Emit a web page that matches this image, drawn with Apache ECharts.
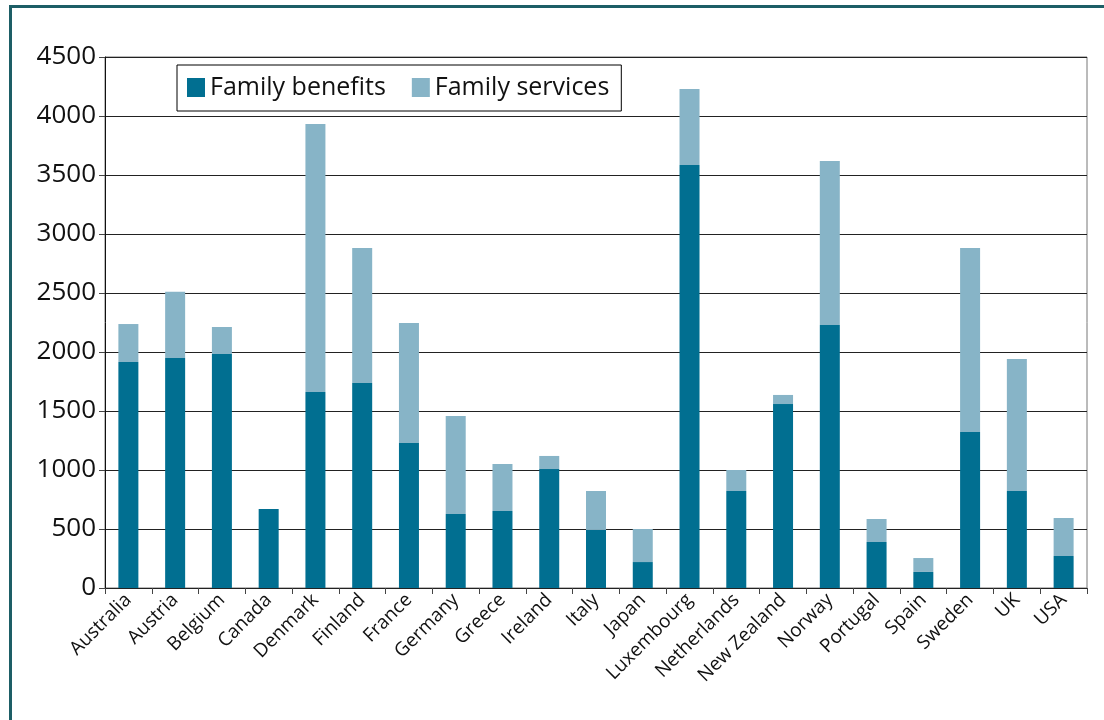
<!DOCTYPE html>
<html>
<head>
<meta charset="utf-8">
<script src="https://cdn.jsdelivr.net/npm/echarts@6/dist/echarts.min.js"></script>
<style>
html, body { margin: 0; padding: 0; background: #fff; }
.frame {
    position: absolute; left: 9px; top: 5px; width: 1200px; height: 800px;
    border-left: 3px solid #1d5e66; border-top: 3px solid #1d5e66;
}
#chart { position: absolute; left: 0; top: 0; width: 1104px; height: 720px; }
</style>
</head>
<body>
<div class="frame"></div>
<div id="chart"></div>
<script>
const countries = ['Australia', 'Austria', 'Belgium', 'Canada', 'Denmark', 'Finland', 'France',
    'Germany', 'Greece', 'Ireland', 'Italy', 'Japan', 'Luxembourg', 'Netherlands', 'New Zealand',
    'Norway', 'Portugal', 'Spain', 'Sweden', 'UK', 'USA'];
const familyBenefits = [1915, 1949, 1983, 669, 1661, 1737, 1229, 627, 653, 1008, 492, 220, 3585,
    822, 1559, 2229, 390, 136, 1322, 822, 271];
const familyServices = [322, 562, 229, 0, 2271, 1144, 1017, 831, 398, 111, 330, 280, 644,
    178, 77, 1390, 195, 118, 1559, 1119, 322];

const fontName = '"Open Sans", "DejaVu Sans", sans-serif';

let myChart = echarts.init(document.getElementById('chart'));
let option = {
    backgroundColor: 'transparent',
    animation: false,
    textStyle: { fontFamily: fontName },
    legend: {
        left: 177,
        top: 65,
        orient: 'horizontal',
        padding: [10, 12, 11, 10],
        borderColor: '#000',
        borderWidth: 1,
        itemWidth: 18,
        itemHeight: 19,
        itemGap: 26,
        icon: 'rect',
        textStyle: { fontSize: 25, color: '#111', fontFamily: fontName },
        data: ['Family benefits', 'Family services']
    },
    grid: {
        left: 105,
        right: 17,
        top: 57,
        bottom: 132,
        show: true,
        borderColor: '#777',
        borderWidth: 1,
        containLabel: false
    },
    xAxis: {
        type: 'category',
        data: countries,
        axisLine: { lineStyle: { color: '#222', width: 1 } },
        axisTick: { show: true, length: 6, lineStyle: { color: '#444' } },
        axisLabel: {
            rotate: 45,
            interval: 0,
            margin: 9,
            fontSize: 19,
            color: '#111',
            fontFamily: fontName
        }
    },
    yAxis: {
        type: 'value',
        min: 0,
        max: 4500,
        interval: 500,
        axisLine: { show: true, lineStyle: { color: '#111', width: 1 } },
        axisTick: { show: true, length: 6, lineStyle: { color: '#444' } },
        axisLabel: {
            fontSize: 26,
            color: '#111',
            margin: 9,
            fontFamily: fontName,
            formatter: (v) => String(v)
        },
        splitLine: { lineStyle: { color: '#222', width: 1 } }
    },
    series: [
        {
            name: 'Family benefits',
            type: 'bar',
            stack: 'total',
            barWidth: 20,
            itemStyle: { color: '#016f91' },
            data: familyBenefits
        },
        {
            name: 'Family services',
            type: 'bar',
            stack: 'total',
            barWidth: 20,
            itemStyle: { color: '#87b4c7' },
            data: familyServices
        }
    ]
};
myChart.setOption(option);
window.addEventListener('resize', () => {
    myChart.resize();
});
</script>
</body>
</html>
